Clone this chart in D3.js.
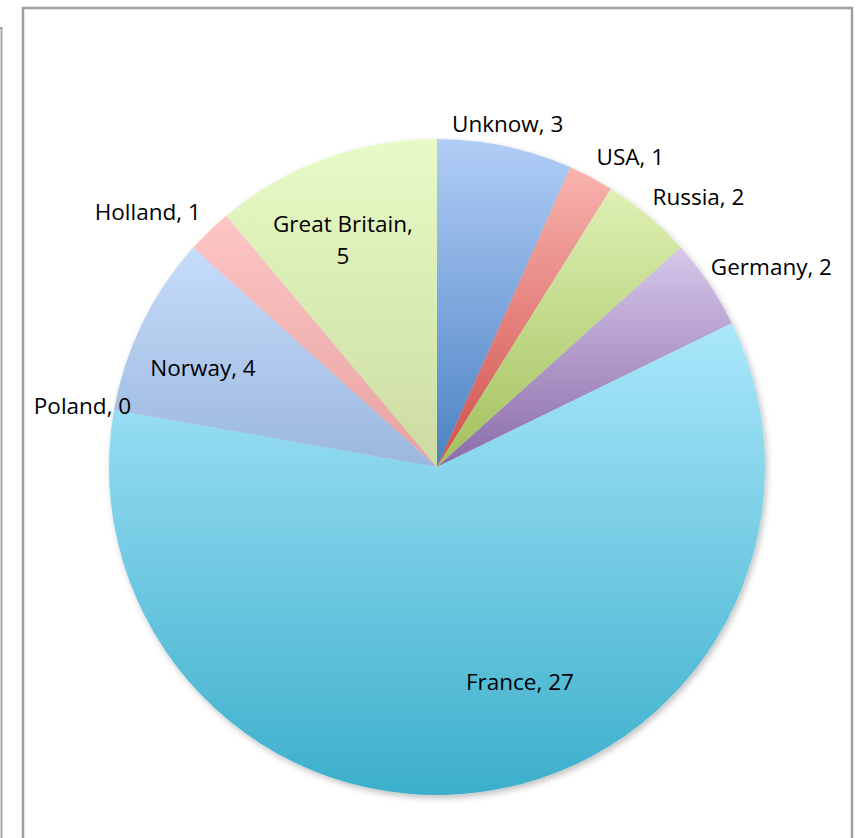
<!DOCTYPE html>
<html>
<head>
<meta charset="utf-8">
<script src="https://cdn.jsdelivr.net/npm/d3@7"></script>
<style>
  html, body { margin: 0; padding: 0; background: #fff; }
  svg { display: block; }
</style>
</head>
<body>
<div id="chart"></div>
<script>
// data
const countries = ["Unknow", "USA", "Russia", "Germany", "France", "Poland", "Norway", "Holland", "Great Britain"];
const counts = [3, 1, 2, 2, 27, 0, 4, 1, 5];
const topColours = ["#b2cdf7", "#f9b3ae", "#dff0b4", "#d6c7ea", "#aae7fb", "#cccccc", "#c6dcfb", "#fdc6c5", "#e8fbc6"];
const bottomColours = ["#4a82c3", "#cf4f4b", "#a2c05c", "#8a6ca9", "#3cafcb", "#999999", "#9bb7dd", "#e6a2a1", "#cbdba2"];

// layout (label placement)
const insideLabels = { "France": 0.70, "Norway": 0.77, "Great Britain": 0.75 };
const labelNudge = { "France": [51, -12], "Poland": [29, 8], "Germany": [-8, 0], "Russia": [-3, 0], "Norway": [-7, 12], "Great Britain": [-10, 4] };

const width = 859, height = 838;
const cx = 437, cy = 467, radius = 328;
const fontSize = 22.5;

const svg = d3.select("#chart").append("svg")
    .attr("width", width)
    .attr("height", height)
    .style("font-family", "'Open Sans', 'Noto Sans', sans-serif");

const defs = svg.append("defs");

// drop shadow under the pie
const shadow = defs.append("filter").attr("id", "pie-shadow")
    .attr("x", "-10%").attr("y", "-10%").attr("width", "120%").attr("height", "120%");
shadow.append("feDropShadow")
    .attr("dx", 2).attr("dy", 3).attr("stdDeviation", 3)
    .attr("flood-color", "#000").attr("flood-opacity", 0.25);

// gradients, one per slice, top light -> bottom dark
countries.forEach((c, i) => {
    const g = defs.append("linearGradient")
        .attr("id", `grad-${i}`)
        .attr("x1", 0).attr("y1", 0).attr("x2", 0).attr("y2", 1);
    g.append("stop").attr("offset", "0%").attr("stop-color", topColours[i]);
    g.append("stop").attr("offset", "100%").attr("stop-color", bottomColours[i]);
});

// frames
svg.append("rect")
    .attr("x", -10).attr("y", 28)
    .attr("width", 11.5).attr("height", height)
    .attr("fill", "none").attr("stroke", "#a6a6a6").attr("stroke-width", 2);
svg.append("rect")
    .attr("x", 23).attr("y", 8)
    .attr("width", 829).attr("height", height + 20)
    .attr("fill", "#fff").attr("stroke", "#a0a0a0").attr("stroke-width", 2.5);

const data = countries.map((c, i) => ({ name: c, value: counts[i], i }));

const pie = d3.pie()
    .value(d => d.value)
    .sort(null);

const arc = d3.arc().innerRadius(0).outerRadius(radius);

const arcs = pie(data);

const pieG = svg.append("g")
    .attr("class", "pie")
    .attr("transform", `translate(${cx},${cy})`);

const slicesG = pieG.append("g").attr("filter", "url(#pie-shadow)");
slicesG.selectAll("path.slice")
    .data(arcs.filter(d => d.data.value > 0))
    .enter()
    .append("path")
        .attr("class", "slice")
        .attr("d", arc)
        .attr("fill", d => `url(#grad-${d.data.i})`);

// labels
const labelsG = pieG.append("g").attr("class", "labels")
    .attr("font-size", fontSize)
    .attr("fill", "#000");

arcs.forEach(d => {
    const name = d.data.name;
    const mid = (d.startAngle + d.endAngle) / 2;
    const s = Math.sin(mid), c = -Math.cos(mid);
    const nudge = labelNudge[name] || [0, 0];
    const text = labelsG.append("text");
    let x, y, anchor;

    if (insideLabels[name]) {
        const r = radius * insideLabels[name];
        x = r * s + nudge[0];
        y = r * c + nudge[1];
        anchor = "middle";
        if (name === "Great Britain") {
            text.attr("text-anchor", anchor);
            text.append("tspan").attr("x", x).attr("y", y - 8).text(`${name},`);
            text.append("tspan").attr("x", x).attr("y", y + 24).text(d.data.value);
            return;
        }
        y += fontSize * 0.35;
    } else {
        const r = radius + 12;
        x = r * s + nudge[0];
        y = r * c + nudge[1];
        anchor = Math.abs(s) < 0.3 ? "middle" : (s > 0 ? "start" : "end");
        y -= 2;
    }
    text.attr("x", x).attr("y", y)
        .attr("text-anchor", anchor)
        .text(`${name}, ${d.data.value}`);
});
</script>
</body>
</html>
